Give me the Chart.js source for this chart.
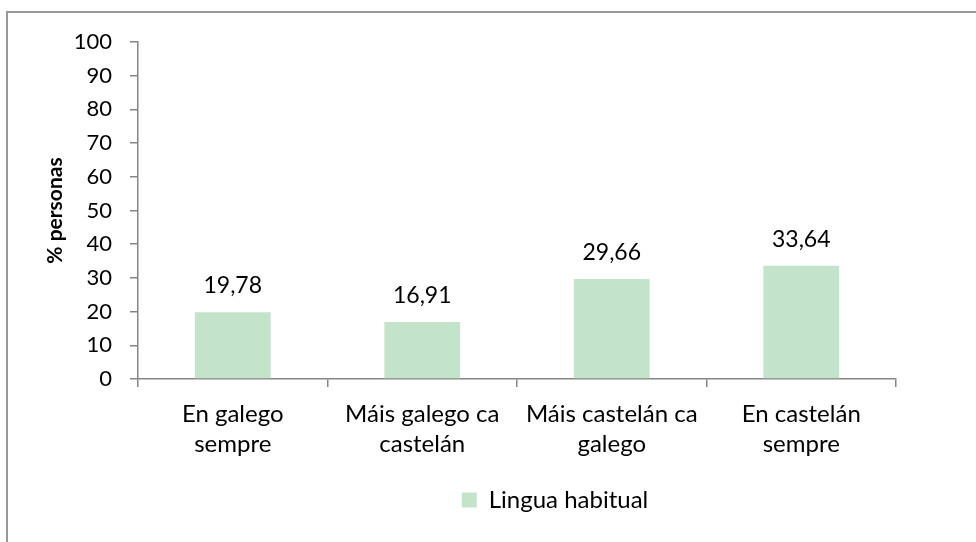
<!DOCTYPE html>
<html>
<head>
<meta charset="utf-8">
<script src="https://cdn.jsdelivr.net/npm/chart.js@4/dist/chart.umd.min.js"></script>
<style>
  html, body { margin: 0; padding: 0; background: #ffffff; }
  #wrap { position: relative; width: 976px; height: 542px; overflow: hidden; }
  #frame { position: absolute; left: 6px; top: 11px; width: 1000px; height: 600px; border: 2px solid #999999; box-sizing: border-box; }
  canvas { position: absolute; left: 0; top: 0; }
</style>
</head>
<body>
<div id="wrap">
  <div id="frame"></div>
  <canvas id="c" width="976" height="542"></canvas>
</div>
<script>
const categories = [
  ["En galego", "sempre"],
  ["Máis galego ca", "castelán"],
  ["Máis castelán ca", "galego"],
  ["En castelán", "sempre"]
];
const seriesName = "Lingua habitual";
const values = [19.78, 16.91, 29.66, 33.64];
const yTicks = [0, 10, 20, 30, 40, 50, 60, 70, 80, 90, 100];
const yTitle = "% personas";

const FONT = "Lato";
const axisColor = "#868686";
const barColor = "#c3e4cb";

const dataLabels = {
  id: "dataLabels",
  afterDatasetsDraw(chart) {
    const ctx = chart.ctx;
    const meta = chart.getDatasetMeta(0);
    ctx.save();
    ctx.font = "23px " + FONT;
    ctx.fillStyle = "#000000";
    ctx.textAlign = "center";
    ctx.textBaseline = "alphabetic";
    meta.data.forEach((bar, i) => {
      const txt = values[i].toFixed(2).replace(".", ",");
      ctx.fillText(txt, bar.x, bar.y - 19);
    });
    ctx.restore();
  }
};

const legendShift = {
  id: "legendShift",
  afterLayout(chart) {
    const lg = chart.legend;
    if (!lg) return;
    const right = chart.chartArea.right;
    lg.left = 214;
    lg.right = right;
    lg.width = right - 214;
  }
};

new Chart(document.getElementById("c"), {
  type: "bar",
  data: {
    labels: categories,
    datasets: [{
      label: seriesName,
      data: values,
      backgroundColor: barColor,
      borderWidth: 0,
      categoryPercentage: 1.0,
      barPercentage: 0.4
    }]
  },
  options: {
    responsive: false,
    animation: false,
    devicePixelRatio: 1,
    layout: { padding: { left: 0, right: 80, top: 42, bottom: 20 } },
    plugins: {
      legend: {
        display: true,
        position: "bottom",
        labels: {
          font: { family: FONT, size: 24 },
          color: "#000000",
          boxWidth: 15,
          boxHeight: 15,
          padding: 9
        }
      },
      tooltip: { enabled: false }
    },
    scales: {
      x: {
        grid: {
          display: true,
          offset: true,
          drawOnChartArea: false,
          drawTicks: true,
          tickLength: 8,
          color: axisColor,
          lineWidth: 1.5
        },
        border: { display: true, color: axisColor, width: 1.5 },
        ticks: {
          font: { family: FONT, size: 24, lineHeight: 1.27 },
          color: "#000000",
          padding: 12,
          maxRotation: 0,
          autoSkip: false
        },
        afterFit(scale) { scale.height = 100; }
      },
      y: {
        min: 0,
        max: 100,
        afterBuildTicks(scale) { scale.ticks = yTicks.map(v => ({ value: v })); },
        grid: {
          display: true,
          drawOnChartArea: false,
          drawTicks: true,
          tickLength: 8,
          color: axisColor,
          lineWidth: 1.5
        },
        border: { display: true, color: axisColor, width: 1.5 },
        ticks: {
          font: { family: FONT, size: 22 },
          color: "#000000",
          padding: 18
        },
        title: {
          display: true,
          text: yTitle,
          font: { family: FONT, size: 21, weight: "bold" },
          color: "#000000",
          padding: { top: 43, bottom: 0 }
        },
        afterFit(scale) { scale.width = 138; }
      }
    }
  },
  plugins: [dataLabels, legendShift]
});
</script>
</body>
</html>
